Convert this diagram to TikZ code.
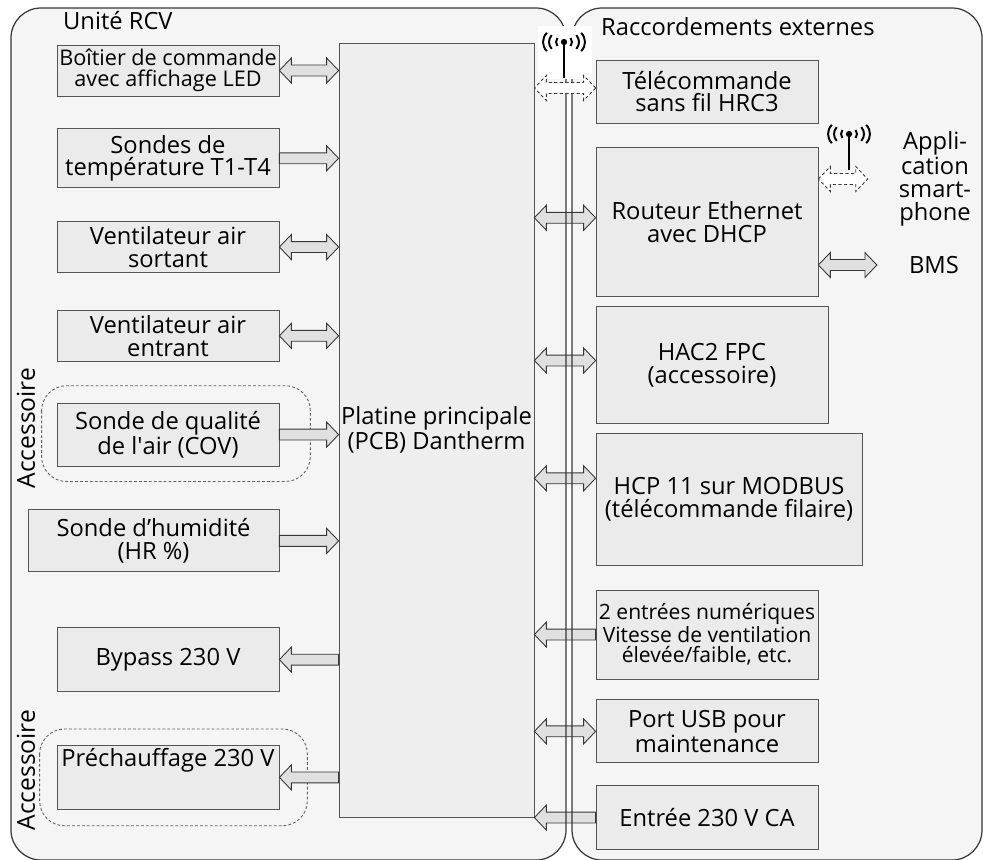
\documentclass[tikz,border=0pt]{standalone}
\usepackage{fontspec}
\setmainfont{Open Sans}
\usetikzlibrary{calc,positioning}
\definecolor{panelgray}{RGB}{245,245,245}
\definecolor{boxgray}{RGB}{235,235,235}
\definecolor{pcbgray}{RGB}{238,238,238}
\definecolor{arrowgray}{RGB}{224,224,224}
\definecolor{edgegray}{RGB}{55,55,55}

% horizontal block arrows: style, start, end (y is taken from the start)
\newcommand{\dblarrow}[3]{%
  \draw[#1] let \p1=(#2), \p2=(#3), \n1={sign(\x2-\x1)} in
    (\x1,\y1) -- ({\x1+(\n1)*6.8pt},{\y1+7.1pt}) -- ({\x1+(\n1)*6.8pt},{\y1+3.1pt})
    -- ({\x2-(\n1)*6.8pt},{\y1+3.1pt}) -- ({\x2-(\n1)*6.8pt},{\y1+7.1pt}) -- (\x2,\y1)
    -- ({\x2-(\n1)*6.8pt},{\y1-7.1pt}) -- ({\x2-(\n1)*6.8pt},{\y1-3.1pt})
    -- ({\x1+(\n1)*6.8pt},{\y1-3.1pt}) -- ({\x1+(\n1)*6.8pt},{\y1-7.1pt}) -- cycle;}
\newcommand{\onearrow}[3]{%
  \draw[#1] let \p1=(#2), \p2=(#3), \n1={sign(\x2-\x1)} in
    (\x1,{\y1+3.1pt}) -- ({\x2-(\n1)*6.8pt},{\y1+3.1pt}) -- ({\x2-(\n1)*6.8pt},{\y1+7.1pt})
    -- (\x2,\y1) -- ({\x2-(\n1)*6.8pt},{\y1-7.1pt}) -- ({\x2-(\n1)*6.8pt},{\y1-3.1pt})
    -- (\x1,{\y1-3.1pt}) -- cycle;}

\begin{document}
\begin{tikzpicture}[
  x=0.02cm, y=-0.02cm,
  font=\fontsize{13.5}{13}\selectfont,
  panel/.style={rounded corners=0.6cm, line width=0.7pt, draw=edgegray},
  block/.style={rectangle, draw=edgegray!85, fill=boxgray, align=center, inner sep=0pt, line width=0.45pt, minimum width=4.44cm},
  group/.style={rounded corners=0.5cm, dashed, dash pattern=on 1.6pt off 1.2pt, draw=edgegray!80, line width=0.5pt},
  barrow/.style={draw=edgegray, fill=arrowgray, line width=0.5pt},
  wifiarrow/.style={draw=edgegray, fill=white, dashed, dash pattern=on 1.8pt off 1.4pt, line width=0.5pt},
  antenna/.pic={
    \fill[black] (0,0) circle (1.8pt);
    \draw[line width=1.3pt] (0,0) -- (0,36);
    \foreach \rx/\ry in {8/7,15/12,21/16}{
      \draw[line width=1.1pt] (0,0) ++(145:\rx pt*0.569 and \ry pt*0.569) arc[start angle=145, end angle=215, x radius=\rx*0.569pt, y radius=\ry*0.569pt];
      \draw[line width=1.1pt] (0,0) ++(-35:\rx pt*0.569 and \ry pt*0.569) arc[start angle=-35, end angle=35, x radius=\rx*0.569pt, y radius=\ry*0.569pt];
    }
  }
]
  \useasboundingbox (0,0) rectangle (983,859);
  \fill[panelgray, rounded corners=0.6cm] (11,8) rectangle (566,860);
  \fill[panelgray, rounded corners=0.6cm] (572,8) rectangle (982,860);

  \node[anchor=west] (rcvtitle) at (57,21) {Unité RCV};
  \node[anchor=west] (exttitle) at (595,27) {Raccordements externes};

  % RCV unit
  \node[block, minimum width=3.9cm, minimum height=15.48cm, fill=pcbgray] (pcb) at (436.5,430) {Platine principale\\(PCB) Dantherm};
  \node[block, minimum height=1.02cm, font=\fontsize{12.3}{12}\selectfont] (boitier) at (168,70.5) {Boîtier de commande\\avec affichage LED};
  \node[block, minimum height=1.18cm, below=0.64cm of boitier] (temp) {Sondes de\\température T1-T4};
  \node[block, minimum height=1.02cm, below=0.66cm of temp] (extract) {Ventilateur air\\sortant};
  \node[block, minimum height=1.02cm, below=0.74cm of extract] (supply) {Ventilateur air\\entrant};
  \node[block, minimum height=1.26cm, below=0.82cm of supply] (voc) {Sonde de qualité\\de l\textquotesingle air (COV)};
  \node[block, minimum width=5.02cm, minimum height=1.24cm, below=0.86cm of voc.south east, anchor=north east] (humid) {Sonde d’humidité\\(HR \%)};
  \node[block, minimum height=1.28cm, below=1.1cm of humid.south east, anchor=north east] (bypass) {Bypass 230 V};
  \node[block, minimum height=1.28cm, below=1.06cm of bypass] (preheat) {Préchauffage 230 V\\[6pt]\strut};

  \draw[group] ($(voc.north west)+(-15,-17)$) rectangle ($(voc.south east)+(31,15)$);
  \draw[group] ($(preheat.north west)+(-17,-16)$) rectangle ($(preheat.south east)+(28,16)$);
  \node[rotate=90, font=\fontsize{14}{14}\selectfont] (acc1) at (26,428) {Accessoire};
  \node[rotate=90, font=\fontsize{14}{14}\selectfont] (acc2) at (26,770) {Accessoire};

  % external connections
  \node[block, minimum height=1.26cm] (remote) at (707,91.5) {Télécommande\\sans fil HRC3};
  \node[block, minimum height=2.98cm, below=0.48cm of remote.south west, anchor=north west] (router) {Routeur Ethernet\\avec DHCP};
  \node[block, minimum width=4.64cm, minimum height=2.34cm, below=0.18cm of router.south west, anchor=north west] (hac) {HAC2 FPC\\(accessoire)};
  \node[block, minimum width=5.32cm, minimum height=2.64cm, below=0.18cm of hac.south west, anchor=north west] (hcp) {HCP 11 sur MODBUS\\(télécommande filaire)};
  \node[block, minimum height=1.78cm, below=0.48cm of hcp.south west, anchor=north west, font=\fontsize{12}{11.4}\selectfont] (inputs) {2 entrées numériques\\Vitesse de ventilation\\élevée/faible, etc.};
  \node[block, minimum height=1.26cm, below=0.4cm of inputs.south west, anchor=north west] (usb) {Port USB pour\\maintenance};
  \node[block, minimum height=1.28cm, below=0.44cm of usb.south west, anchor=north west] (mains) {Entrée 230 V CA};
  \node[align=center] (app) at (935,179) {Appli-\\cation\\smart-\\phone};
  \node (bms) at (934,265) {BMS};

  % links to the main board
  \dblarrow{barrow}{boitier.east}{pcb.west}
  \onearrow{barrow}{temp.east}{pcb.west}
  \dblarrow{barrow}{extract.east}{pcb.west}
  \dblarrow{barrow}{supply.east}{pcb.west}
  \onearrow{barrow}{voc.east}{pcb.west}
  \onearrow{barrow}{humid.east}{pcb.west}
  \onearrow{barrow}{pcb.west |- bypass.east}{bypass.east}
  \onearrow{barrow}{pcb.west |- preheat.east}{preheat.east}

  \dblarrow{barrow}{[yshift=0.09cm]router.west}{pcb.east}
  \dblarrow{barrow}{[yshift=0.09cm]hac.west}{pcb.east}
  \dblarrow{barrow}{[yshift=0.42cm]hcp.west}{pcb.east}
  \onearrow{barrow}{inputs.west}{pcb.east}
  \dblarrow{barrow}{usb.west}{pcb.east}
  \onearrow{barrow}{mains.west}{pcb.east}
  \dblarrow{barrow}{router.east |- bms.west}{[xshift=-0.52cm]bms.west}

  % bus between both panels
  \draw[panel] (11,8) rectangle (566,860);
  \draw[panel] (572,8) rectangle (982,860);

  % wireless links
  \fill[white] (538,26) rectangle (592,79);
  \pic at (564,42) {antenna};
  \pic at (849,134) {antenna};
  \dblarrow{wifiarrow}{[yshift=0.07cm]remote.west}{pcb.east}
  \dblarrow{wifiarrow}{router.east |- app.west}{[xshift=-0.5cm]app.west}
\end{tikzpicture}
\end{document}
